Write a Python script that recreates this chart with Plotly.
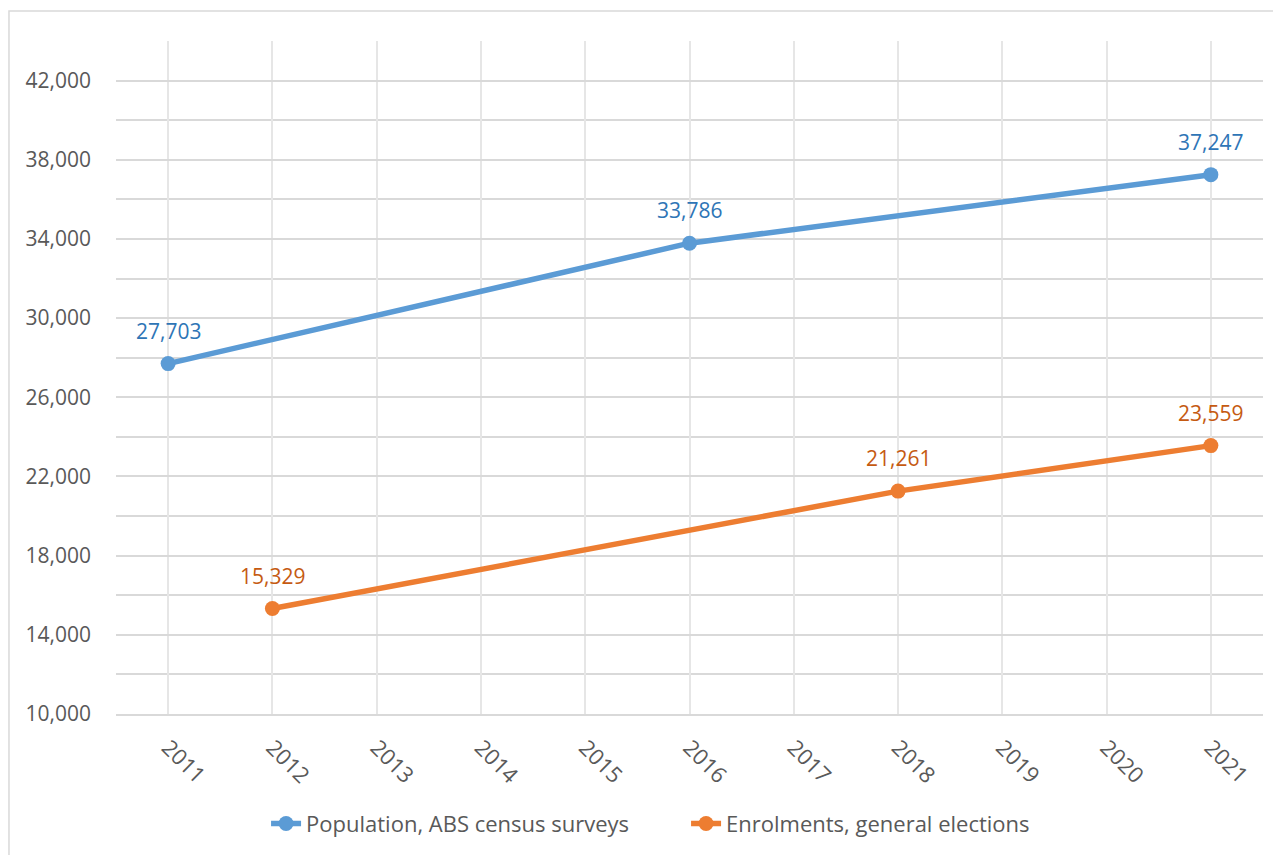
import plotly.graph_objects as go

years = [str(y) for y in range(2011, 2022)]
pop_years = ["2011", "2016", "2021"]
pop_values = [27703, 33786, 37247]
enr_years = ["2012", "2018", "2021"]
enr_values = [15329, 21261, 23559]
pop_name = "Population, ABS census surveys"
enr_name = "Enrolments, general elections"
y_ticks = list(range(10000, 44001, 4000))

BLUE = "#5b9bd5"
ORANGE = "#ed7d31"
BLUE_T = "#2e75b6"
ORANGE_T = "#c55a11"
FONT = "Open Sans"

fig = go.Figure()
fig.add_trace(go.Scatter(x=pop_years, y=pop_values, name=pop_name, mode="lines+markers",
                         line=dict(color=BLUE, width=5.5), marker=dict(size=15, color=BLUE)))
fig.add_trace(go.Scatter(x=enr_years, y=enr_values, name=enr_name, mode="lines+markers",
                         line=dict(color=ORANGE, width=5.5), marker=dict(size=15, color=ORANGE)))

for xs, ys, c in [(pop_years, pop_values, BLUE_T), (enr_years, enr_values, ORANGE_T)]:
    for x, y in zip(xs, ys):
        fig.add_annotation(x=years.index(x), y=y, xref="x", yref="y", text=f"{y:,}",
                           showarrow=False, yshift=33,
                           font=dict(family=FONT, size=21, color=c))

fig.add_shape(type="rect", xref="paper", yref="paper", x0=-0.0933, y0=-0.25, x1=1.03, y1=1.0446,
              line=dict(color="#d9d9d9", width=1.5), fillcolor="rgba(0,0,0,0)", layer="below")

fig.update_layout(
    width=1281, height=855,
    margin=dict(l=108, r=26, t=33, b=149),
    paper_bgcolor="white", plot_bgcolor="white",
    font=dict(family=FONT, size=21, color="#595959"),
    showlegend=True,
    legend=dict(orientation="h", x=0.497, xanchor="center", y=-0.163, yanchor="middle",
                font=dict(family=FONT, size=22, color="#595959"),
                traceorder="normal", itemclick=False,
                entrywidthmode="pixels", entrywidth=375),
    xaxis=dict(type="category", categoryorder="array", categoryarray=years,
               range=[-0.5, len(years) - 0.5], tickangle=45,
               showgrid=True, gridcolor="#e6e6e6", gridwidth=1.5,
               showline=True, linecolor="#d9d9d9", linewidth=2,
               ticks="", ticklabelstandoff=10, tickfont=dict(size=22, color="#595959")),
    yaxis=dict(range=[10000, 44000], tickvals=y_ticks, tickformat=",",
               showgrid=True, gridcolor="#d9d9d9", gridwidth=1.5,
               zeroline=False, showline=False, ticks="",
               ticklabelstandoff=24, tickfont=dict(size=21, color="#595959"),
               minor=dict(dtick=2000, tick0=10000, showgrid=True, gridcolor="#d9d9d9", gridwidth=1.5)),
)

fig.write_html("out.html")
